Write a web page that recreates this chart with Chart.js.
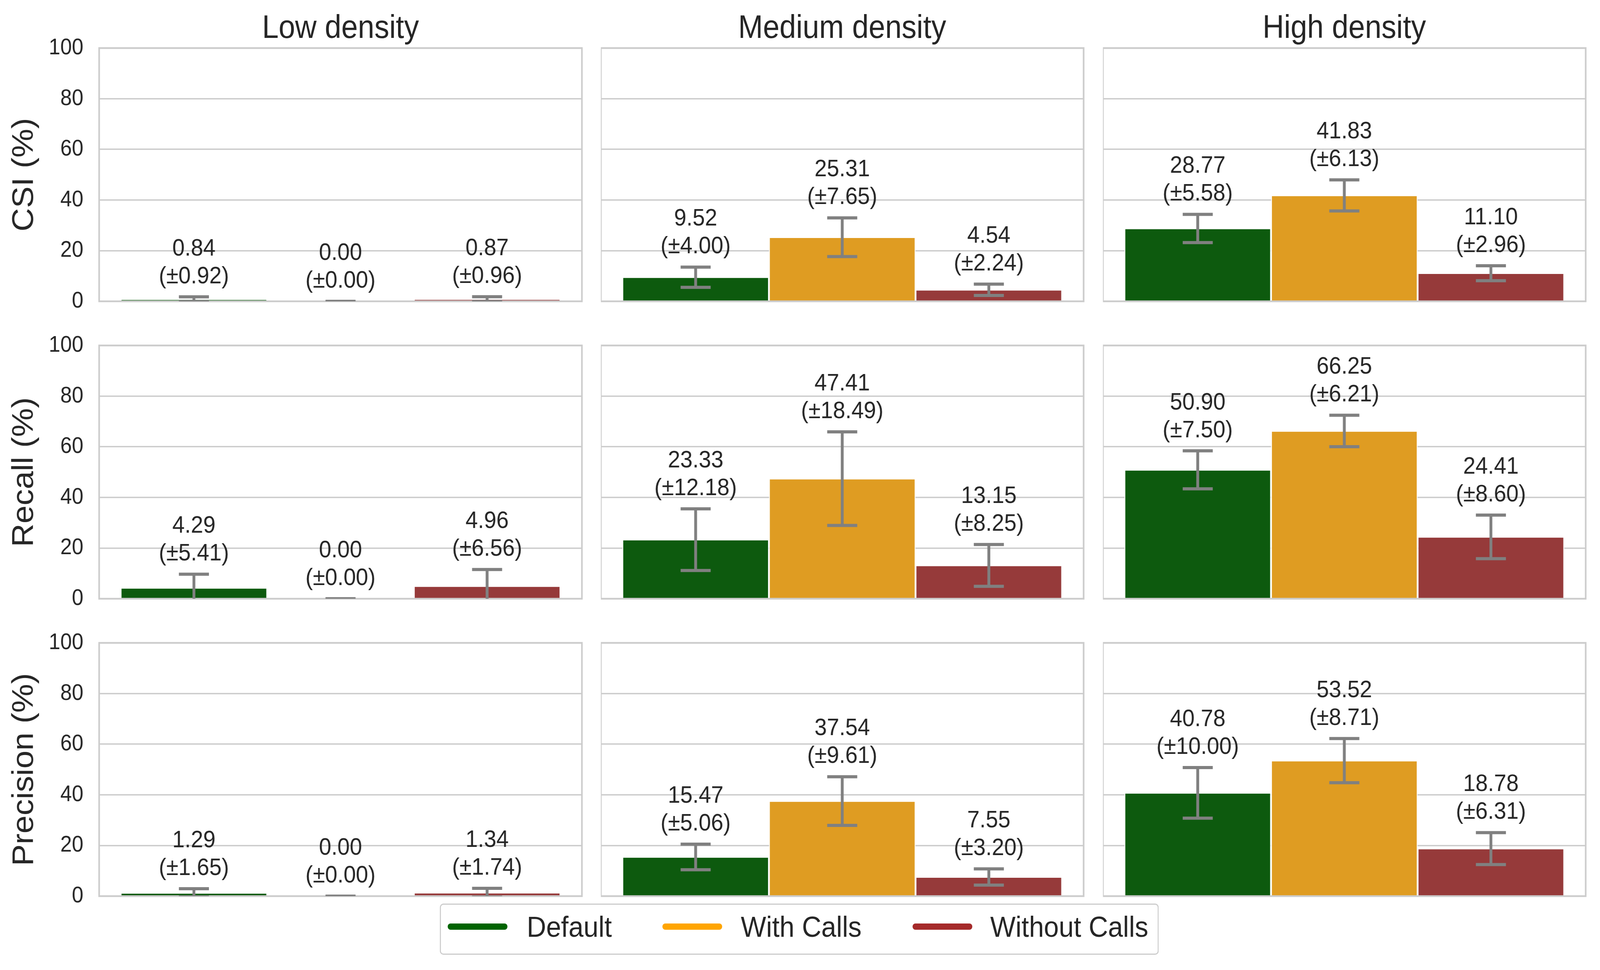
<!DOCTYPE html>
<html>
<head>
<meta charset="utf-8">
<script src="https://cdn.jsdelivr.net/npm/chart.js@4.4.1/dist/chart.umd.min.js"></script>
<style>
html,body{margin:0;padding:0;background:#ffffff;overflow:hidden;}
body{position:relative;font-family:'Liberation Sans',Arial,Helvetica,sans-serif;color:#262626;}
#fig{position:absolute;left:0;top:0;width:4471px;height:2482px;transform-origin:0 0;background:#ffffff;}
canvas{position:absolute;}
.coltitle{position:absolute;white-space:nowrap;transform:translateX(-50%);font-size:83px;line-height:83px;}
.legbox{position:absolute;box-sizing:border-box;background:#ffffff;border:3.5px solid #cccccc;border-radius:10px;}
.legline{position:absolute;height:16px;border-radius:8px;}
.legtext{position:absolute;white-space:nowrap;font-size:75px;line-height:75px;}
</style>
</head>
<body>
<div id="fig"></div>
<script>
// ---------------- DATA ----------------
const methods = ['Default', 'With Calls', 'Without Calls'];
const densities = ['Low density', 'Medium density', 'High density'];
const metricLabels = ['CSI (%)', 'Recall (%)', 'Precision (%)'];
const yTicks = [0, 20, 40, 60, 80, 100];

// rows: density (low, medium, high); columns: method (Default, With Calls, Without Calls)
const csiMean = [[0.84, 0.00, 0.87], [9.52, 25.31, 4.54], [28.77, 41.83, 11.10]];
const csiStd = [[0.92, 0.00, 0.96], [4.00, 7.65, 2.24], [5.58, 6.13, 2.96]];
const recallMean = [[4.29, 0.00, 4.96], [23.33, 47.41, 13.15], [50.90, 66.25, 24.41]];
const recallStd = [[5.41, 0.00, 6.56], [12.18, 18.49, 8.25], [7.50, 6.21, 8.60]];
const precisionMean = [[1.29, 0.00, 1.34], [15.47, 37.54, 7.55], [40.78, 53.52, 18.78]];
const precisionStd = [[1.65, 0.00, 1.74], [5.06, 9.61, 3.20], [10.00, 8.71, 6.31]];

const meansByMetric = [csiMean, recallMean, precisionMean];
const stdsByMetric = [csiStd, recallStd, precisionStd];

// ---------------- STYLE / LAYOUT (figure px, 4471x2482) ----------------
const FONT = "'Liberation Sans', Arial, Helvetica, sans-serif";
const TEXT = '#262626';
const barColors = ['#0d5a0e', '#df9c22', '#963a3a'];
const legendColors = ['#006400', '#ffa500', '#a52a2a'];

// fit the 4471x2482 figure to the actual viewport
const fig = document.getElementById('fig');
const VW = window.innerWidth || 4471, VH = window.innerHeight || 2482;
document.body.style.width = VW + 'px';
document.body.style.height = VH + 'px';
fig.style.transform = 'scale(' + (VW / 4471) + ',' + (VH / 2482) + ')';

const colLeft = [277, 1679, 3082];
const rowTop = [123, 884, 1645];
const plotW = 1349, plotH = 648;
const PT = 100, PB = 100, PR = 10;
const AXW = 277;

// overlay plugin: frame, error bars, value labels
const overlay = {
  id: 'overlay',
  afterDatasetsDraw(chart) {
    const ctx = chart.ctx;
    const a = chart.chartArea;
    const ys = chart.scales.y;
    // frame
    ctx.save();
    ctx.strokeStyle = '#cccccc';
    ctx.lineWidth = 4.5;
    ctx.strokeRect(a.left, a.top, a.right - a.left, a.bottom - a.top);
    ctx.restore();
    // error bars (mean +/- std), clipped to the plot area
    ctx.save();
    ctx.beginPath();
    ctx.rect(a.left, a.top, a.right - a.left, a.bottom - a.top);
    ctx.clip();
    ctx.strokeStyle = '#808080';
    ctx.lineWidth = 8;
    ctx.lineCap = 'butt';
    chart.data.datasets.forEach((ds, i) => {
      const bar = chart.getDatasetMeta(i).data[0];
      const m = ds.data[0], s = ds.errStd;
      const yHi = ys.getPixelForValue(m + s);
      const yLo = ys.getPixelForValue(m - s);
      const x = bar.x, hw = 42;
      ctx.beginPath();
      ctx.moveTo(x, yLo); ctx.lineTo(x, yHi);
      ctx.moveTo(x - hw, yHi); ctx.lineTo(x + hw, yHi);
      ctx.moveTo(x - hw, yLo); ctx.lineTo(x + hw, yLo);
      ctx.stroke();
    });
    ctx.restore();
    // value labels
    ctx.save();
    ctx.fillStyle = TEXT;
    ctx.font = '62px ' + FONT;
    ctx.textAlign = 'center';
    ctx.textBaseline = 'alphabetic';
    chart.data.datasets.forEach((ds, i) => {
      const bar = chart.getDatasetMeta(i).data[0];
      const m = ds.data[0], s = ds.errStd;
      const yHi = ys.getPixelForValue(m + s);
      const base2 = yHi - 35;
      ctx.fillText('(\u00b1' + s.toFixed(2) + ')', bar.x, base2);
      ctx.fillText(m.toFixed(2), bar.x, base2 - 71);
    });
    ctx.restore();
  }
};

for (let r = 0; r < 3; r++) {
  for (let c = 0; c < 3; c++) {
    const axw = c === 0 ? AXW : 0;
    const cv = document.createElement('canvas');
    const w = axw + plotW + PR, h = PT + plotH + PB;
    cv.width = w; cv.height = h;
    cv.style.width = w + 'px'; cv.style.height = h + 'px';
    cv.style.left = (colLeft[c] - axw) + 'px';
    cv.style.top = (rowTop[r] - PT) + 'px';
    fig.appendChild(cv);
    const means = meansByMetric[r];
    const stds = stdsByMetric[r];
    new Chart(cv, {
      type: 'bar',
      data: {
        labels: [densities[c]],
        datasets: methods.map((name, k) => ({
          label: name,
          data: [means[c][k]],
          errStd: stds[c][k],
          backgroundColor: barColors[k],
          borderColor: '#ffffff',
          borderWidth: {left: 2.5, right: 2.5, top: 2, bottom: 0},
          borderSkipped: 'start',
          categoryPercentage: 0.911,
          barPercentage: 1.0
        }))
      },
      options: {
        responsive: false,
        animation: false,
        devicePixelRatio: 1,
        events: [],
        layout: {padding: {top: PT, bottom: PB, left: 0, right: PR}},
        plugins: {legend: {display: false}, tooltip: {enabled: false}, title: {display: false}},
        scales: {
          x: {display: false},
          y: {
            min: 0, max: 100,
            afterBuildTicks: (s) => { s.ticks = yTicks.map(v => ({value: v})); },
            ticks: {display: c === 0, padding: 44, color: TEXT, font: {size: 58, family: FONT}},
            grid: {color: '#cccccc', lineWidth: 3.5, drawTicks: false},
            border: {display: false},
            title: {display: c === 0, text: metricLabels[r], color: TEXT,
                    font: {size: 83, family: FONT}, padding: {top: 19, bottom: 0}},
            afterFit: (s) => { s.width = axw; }
          }
        }
      },
      plugins: [overlay]
    });
  }
}

// column titles
densities.forEach((d, c) => {
  const el = document.createElement('div');
  el.className = 'coltitle';
  el.textContent = d;
  el.style.left = (colLeft[c] + plotW / 2) + 'px';
  el.style.top = '27px';
  fig.appendChild(el);
});

// legend
const box = document.createElement('div');
box.className = 'legbox';
box.style.left = '1229px'; box.style.top = '2312px';
box.style.width = '2009px'; box.style.height = '131px';
fig.appendChild(box);
const legLineX = [1251, 1851, 2550];
const legTextX = [1472, 2070, 2767];
methods.forEach((m, k) => {
  const ln = document.createElement('div');
  ln.className = 'legline';
  ln.style.left = legLineX[k] + 'px';
  ln.style.top = '2363px';
  ln.style.width = '167px';
  ln.style.background = legendColors[k];
  fig.appendChild(ln);
  const tx = document.createElement('div');
  tx.className = 'legtext';
  tx.textContent = m;
  tx.style.left = legTextX[k] + 'px';
  tx.style.top = '2334px';
  fig.appendChild(tx);
});
</script>
</body>
</html>
